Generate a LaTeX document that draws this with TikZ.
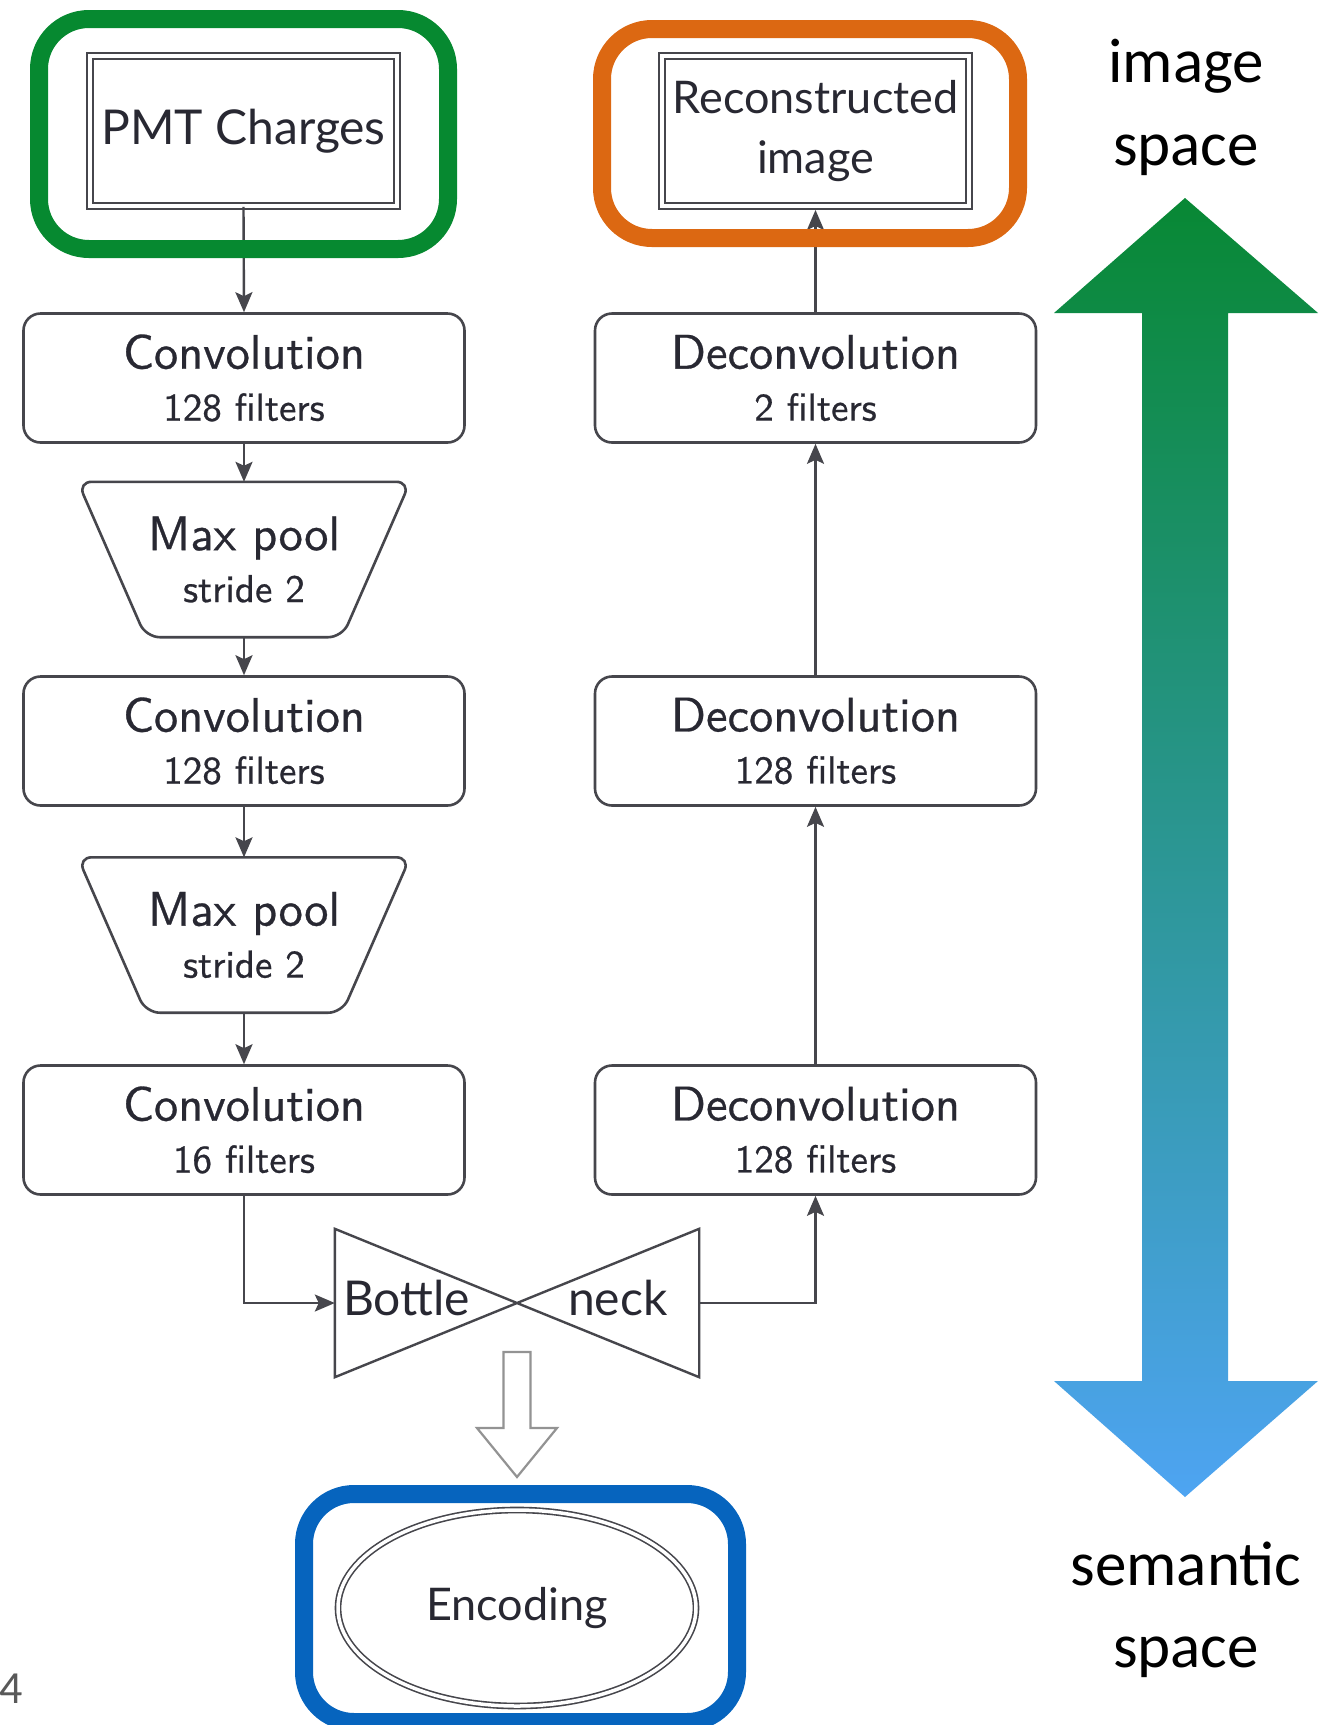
\documentclass[tikz,border=0pt]{standalone}
\usepackage{fontspec}
\newfontfamily\latofont{Lato}
\newfontfamily\carlitofont{Carlito}
\newfontfamily\cmssfont[FakeBold=0.6]{lmsans10-regular.otf}
\usetikzlibrary{arrows.meta,calc,shapes.geometric}
\definecolor{txt}{RGB}{40,40,50}
\definecolor{ln}{RGB}{70,70,76}
\definecolor{hlgreen}{RGB}{6,137,48}
\definecolor{hlorange}{RGB}{220,104,18}
\definecolor{hlblue}{RGB}{6,100,190}
\definecolor{arrtop}{RGB}{8,136,52}
\definecolor{arrbot}{RGB}{78,164,242}
\definecolor{pagegray}{RGB}{89,89,89}
\newcommand\lyrB{\fontsize{39}{52}\selectfont}
\begin{document}
\begin{tikzpicture}[x=1pt,y=-1pt,
  every node/.style={text=txt},
  layerbox/.style={draw=ln, line width=2.6pt, rounded corners=17pt, minimum width=441pt,
    minimum height=129pt, align=center, inner sep=0pt, font=\cmssfont\fontsize{48.5}{52}\selectfont},
  poolnode/.style={minimum width=332pt, minimum height=155pt, align=center, inner sep=0pt,
    font=\cmssfont\fontsize{48.5}{52}\selectfont},
  trapline/.style={draw=ln, line width=2.6pt, rounded corners=14pt},
  dbox/.style={draw=ln, double, double distance=3.5pt, line width=1.9pt, minimum width=307pt,
    minimum height=150pt, inner sep=0pt, align=center},
  conn/.style={draw=ln, line width=2.4pt, -{Stealth[length=20pt,width=17pt,inset=4pt]}},
  hl/.style={line width=18pt, rounded corners=50pt},
  sidetext/.style={anchor=base, inner sep=0pt, text=black, font=\carlitofont\fontsize{63}{76}\selectfont},
  bntext/.style={anchor=base west, inner sep=0pt, font=\latofont\fontsize{48}{58}\selectfont}
]
\useasboundingbox (0,0) rectangle (1323,1725);
\fill[white] (0,0) rectangle (1323,1725);

% input / output
\node[dbox, font=\latofont\fontsize{48}{58}\selectfont] (pmt) at (243.5,131) {PMT Charges};
\node[dbox, font=\latofont\fontsize{45}{60}\selectfont] (rec) at (815.5,131) {Reconstructed\\image};

% encoder
\node[layerbox] (c1) at (244,378) {Convolution\\\lyrB 128 filters};
\node[poolnode] (p1) at (244,559.5) {Max pool\\\lyrB stride 2};
\draw[trapline] (p1.north west) -- (p1.north east) -- ([xshift=-68pt]p1.south east) -- ([xshift=68pt]p1.south west) -- cycle;
\node[layerbox] (c2) at (244,741) {Convolution\\\lyrB 128 filters};
\node[poolnode] (p2) at (244,935) {Max pool\\\lyrB stride 2};
\draw[trapline] (p2.north west) -- (p2.north east) -- ([xshift=-68pt]p2.south east) -- ([xshift=68pt]p2.south west) -- cycle;
\node[layerbox] (c3) at (244,1130) {Convolution\\\lyrB 16 filters};

% decoder
\node[layerbox] (d1) at (815.5,378) {Deconvolution\\\lyrB 2 filters};
\node[layerbox] (d2) at (815.5,741) {Deconvolution\\\lyrB 128 filters};
\node[layerbox] (d3) at (815.5,1130) {Deconvolution\\\lyrB 128 filters};

% bottleneck
\node[minimum width=364pt, minimum height=148pt, inner sep=0pt] (bn) at (517,1303) {};
\draw[draw=ln, line width=2.4pt, line join=miter] (bn.north west) -- (bn.south east) -- (bn.north east) -- (bn.south west) -- cycle;
\node[bntext] (bt) at (343,1315) {Bottle};
\node[bntext] (nk) at (568,1315) {neck};

% encoding
\node[ellipse, draw=ln, double, double distance=3.5pt, line width=1.6pt, minimum width=358pt,
  minimum height=196pt, inner sep=0pt, font=\latofont\fontsize{45}{50}\selectfont] (enc) at (517,1608) {Encoding};

% connectors
\draw[conn] (pmt.south) -- (c1.north);
\draw[conn] (c1.south) -- (p1.north);
\draw[conn] (p1.south) -- (c2.north);
\draw[conn] (c2.south) -- (p2.north);
\draw[conn] (p2.south) -- (c3.north);
\draw[conn] (c3.south) |- (bn.west);
\draw[conn] (bn.east) -| (d3.south);
\draw[conn] (d3.north) -- (d2.south);
\draw[conn] (d2.north) -- (d1.south);
\draw[conn, shorten >=3pt] (d1.north) -- (rec.south);

% hollow arrow bottleneck -> encoding
\coordinate (ha) at (517,1352);
\draw[draw=gray!85, line width=2.2pt, fill=white, line join=miter]
  ($(ha)+(-13.5,0)$) -- ($(ha)+(13.5,0)$) -- ($(ha)+(13.5,76)$) -- ($(ha)+(40,76)$) -- ($(ha)+(0,125)$)
  -- ($(ha)+(-40,76)$) -- ($(ha)+(-13.5,76)$) -- cycle;

% highlight frames
\draw[hl, draw=hlgreen] (39,19) rectangle (448,249);
\draw[hl, draw=hlorange] (602,29) rectangle (1018,238);
\draw[hl, draw=hlblue] (304,1494) rectangle (737,1722);

% gradient double arrow
\shade[top color=arrtop, bottom color=arrbot]
  (1185,198) -- (1318,313) -- (1228,313) -- (1228,1381) -- (1318,1381) -- (1185,1497)
  -- (1054,1381) -- (1142,1381) -- (1142,313) -- (1054,313) -- cycle;

\node[sidetext] (t1) at (1186,82) {image};
\node[sidetext] (t2) at (1186,165) {space};
\node[sidetext] (t3) at (1186,1585) {semantic};
\node[sidetext] (t4) at (1186,1667) {space};

\node[anchor=base west, inner sep=0pt, text=pagegray, font=\carlitofont\fontsize{46}{50}\selectfont] (pg) at (-1,1703) {4};
\end{tikzpicture}
\end{document}
